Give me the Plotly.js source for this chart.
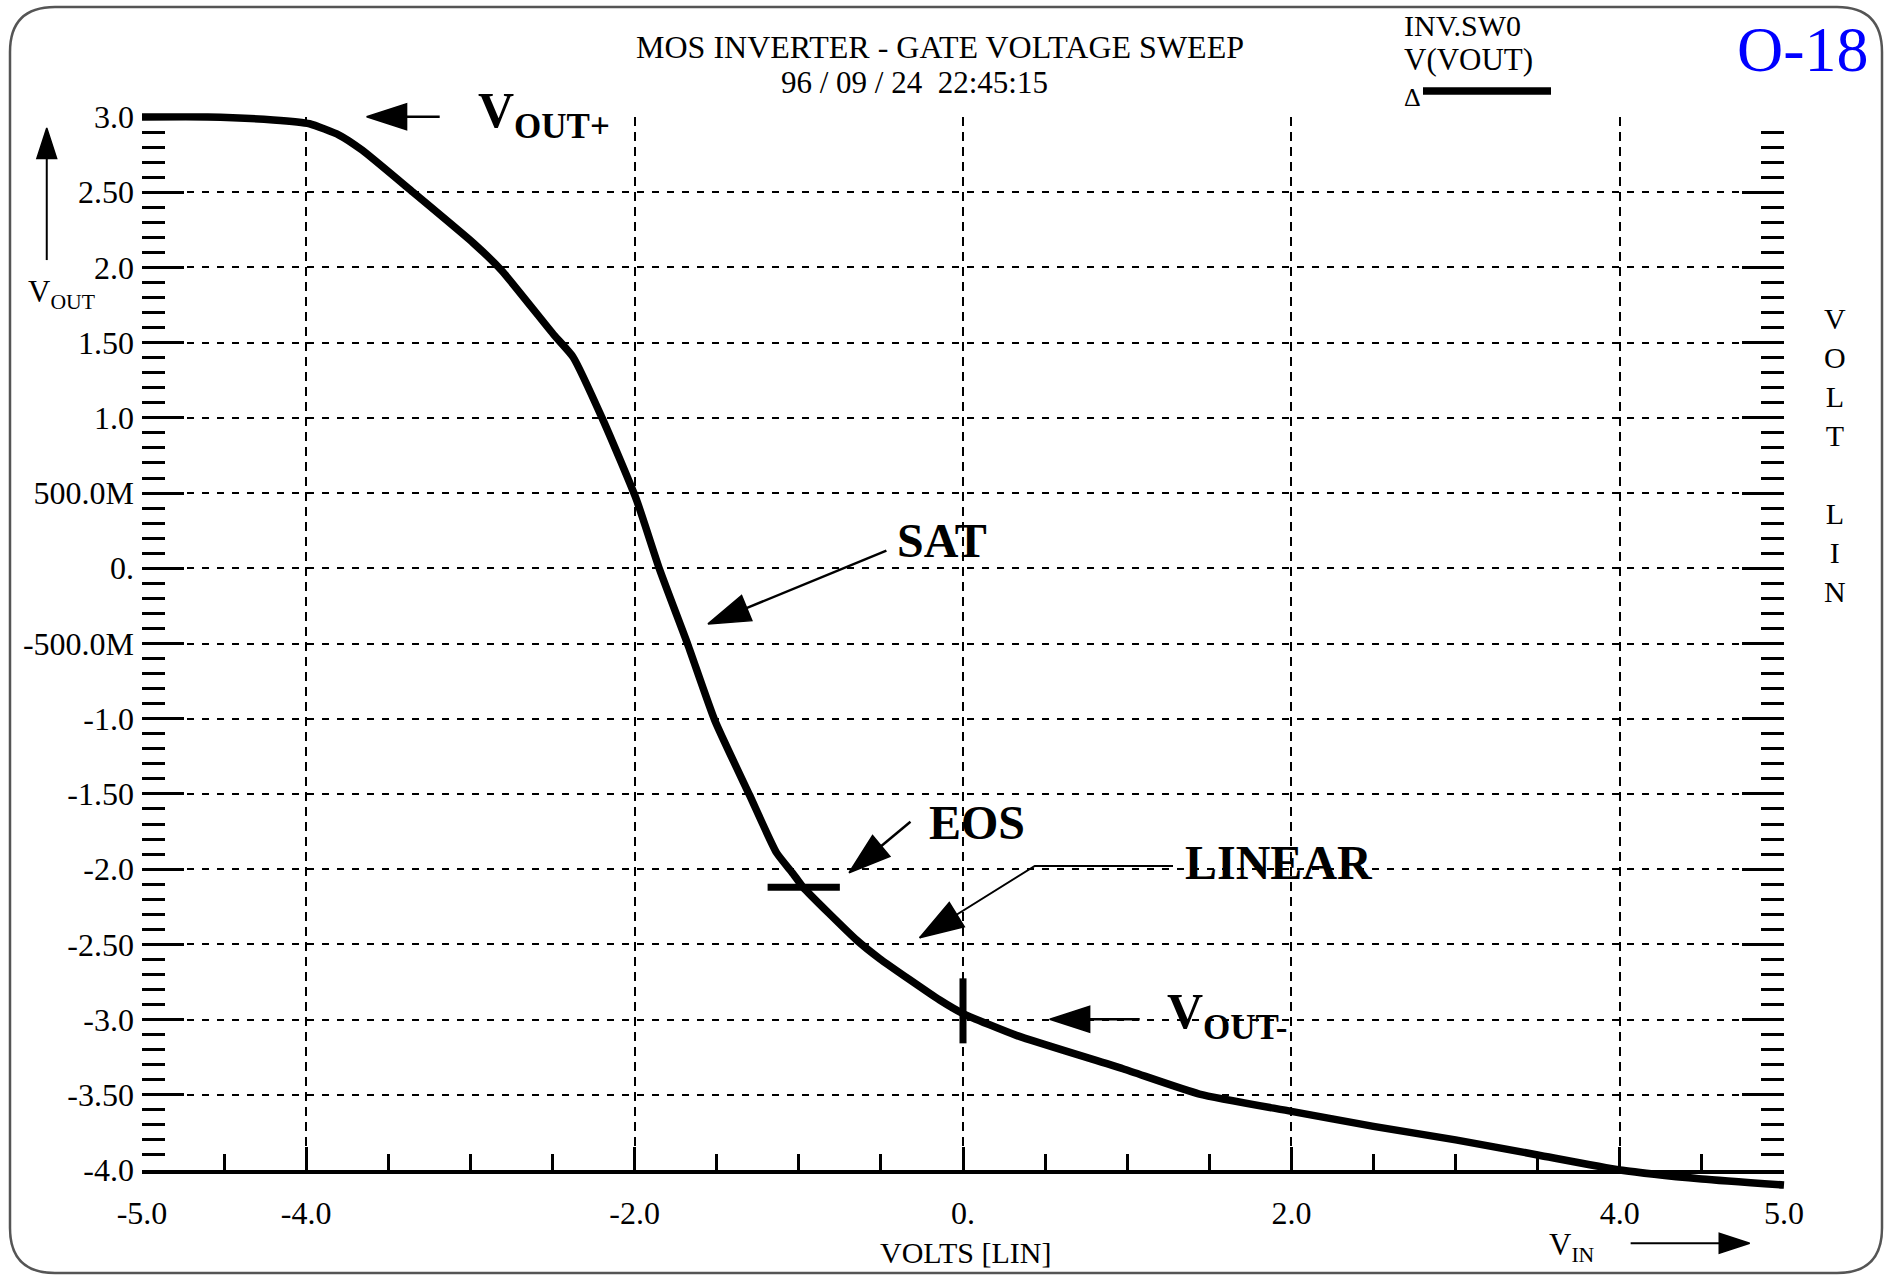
<!DOCTYPE html>
<html>
<head>
<meta charset="utf-8">
<script src="https://cdn.plot.ly/plotly-3.0.1.min.js"></script>
<style>html,body{margin:0;padding:0;background:#fff;}#chart{width:1893px;height:1276px;}</style>
</head>
<body>
<div id="chart"></div>
<script>
// ---------------- data ----------------
const vin  = [-5.0, -4.6, -4.2, -3.98, -3.8, -3.66, -3.35, -2.98, -2.81, -2.49, -2.375, -2.19, -1.99, -1.847, -1.675, -1.512, -1.299, -1.136, -1.035, -0.974, -0.649, -0.507, -0.142, 0.0, 0.325, 0.974, 1.44, 2.0, 2.5, 3.0, 3.5, 4.0, 4.5, 5.0];
const vout = [3.00, 3.00, 2.98, 2.955, 2.88, 2.78, 2.50, 2.16, 1.98, 1.55, 1.405, 0.98, 0.46, -0.01, -0.51, -1.01, -1.51, -1.89, -2.03, -2.12, -2.47, -2.595, -2.87, -2.96, -3.105, -3.327, -3.495, -3.61, -3.71, -3.80, -3.90, -4.00, -4.06, -4.10];

const eosX = [-1.19, -0.75];
const eosY = [-2.12, -2.12];
const voutMinusMarkX = [0.0, 0.0];
const voutMinusMarkY = [-2.726, -3.158];

const yTickVals = [3.0, 2.5, 2.0, 1.5, 1.0, 0.5, 0.0, -0.5, -1.0, -1.5, -2.0, -2.5, -3.0, -3.5, -4.0];
const yTickText = ['3.0', '2.50', '2.0', '1.50', '1.0', '500.0M', '0.', '-500.0M', '-1.0', '-1.50', '-2.0', '-2.50', '-3.0', '-3.50', '-4.0'];
const xTickVals = [-4, -2, 0, 2, 4];
const xTickText = ['-4.0', '-2.0', '0.', '2.0', '4.0'];
const xEdgeVals = [-5, 5];
const xEdgeText = ['-5.0', '5.0'];

// annotation arrows (tail ... tip), in chart units
const arrowVoutPlusX = [-3.187, -3.632];
const arrowVoutPlusY = [3.002, 3.002];
const arrowSatX = [-0.4665, -1.553];
const arrowSatY = [0.117, -0.370];
const arrowEosX = [-0.320, -0.694];
const arrowEosY = [-1.685, -2.024];
const arrowLinearX = [1.279, 0.437, -0.264];
const arrowLinearY = [-1.979, -1.979, -2.456];
const arrowVoutMinusX = [1.076, 0.528];
const arrowVoutMinusY = [-2.998, -2.998];
const arrowVoutAxisX = [-5.58, -5.58];
const arrowVoutAxisY = [2.049, 2.927];
const arrowVinX = [4.066, 4.791];
const arrowVinY = [-4.487, -4.487];

// ---------------- geometry ----------------
const W = 1893, H = 1276;
const PX0 = 142, PX1 = 1784, PY0 = 117, PY1 = 1170;   // pixel box of the -5..5 x 3..-4 frame
const PAD = 20;
const pw = W - 2 * PAD, ph = H - 2 * PAD;
const sx = (PX1 - PX0) / 10, sy = (PY1 - PY0) / 7;
const paperX = px => (px - PAD) / pw;
const paperY = py => (H - PAD - py) / ph;
const dataX = px => -5 + (px - PX0) / sx;
const dataY = py => 3 - (py - PY0) / sy;

const FONT = 'Liberation Serif, Times New Roman, serif';

function arrowTrace(xs, ys, head, lw) {
  const sizes = xs.map((_, i) => i === xs.length - 1 ? head : 0);
  return {
    x: xs, y: ys, xaxis: 'x2', yaxis: 'y2', type: 'scatter', mode: 'lines+markers',
    line: {color: '#000', width: lw},
    marker: {symbol: 'arrow', size: sizes, angleref: 'previous', color: '#000', opacity: 1, line: {width: 1.5, color: '#000'}},
    hoverinfo: 'skip', showlegend: false
  };
}

const traces = [
  {x: [], y: [], xaxis: 'x', yaxis: 'y', type: 'scatter', mode: 'lines', hoverinfo: 'skip', showlegend: false},
  {x: [-5, 5], y: [null, null], xaxis: 'x3', yaxis: 'y', type: 'scatter', mode: 'lines', hoverinfo: 'skip', showlegend: false},
  {x: vin, y: vout, xaxis: 'x2', yaxis: 'y2', type: 'scatter', mode: 'lines', name: 'V(VOUT)',
   line: {color: '#000', width: 7.5, shape: 'spline', smoothing: 0.5}, hoverinfo: 'x+y', showlegend: false},
  {x: eosX, y: eosY, xaxis: 'x2', yaxis: 'y2', type: 'scatter', mode: 'lines', line: {color: '#000', width: 7}, hoverinfo: 'skip', showlegend: false},
  {x: voutMinusMarkX, y: voutMinusMarkY, xaxis: 'x2', yaxis: 'y2', type: 'scatter', mode: 'lines', line: {color: '#000', width: 7}, hoverinfo: 'skip', showlegend: false},
  arrowTrace(arrowVoutPlusX, arrowVoutPlusY, 42, 2.5),
  arrowTrace(arrowSatX, arrowSatY, 44, 2.5),
  arrowTrace(arrowEosX, arrowEosY, 44, 2.5),
  arrowTrace(arrowLinearX, arrowLinearY, 46, 2),
  arrowTrace(arrowVoutMinusX, arrowVoutMinusY, 42, 2.5),
  arrowTrace(arrowVoutAxisX, arrowVoutAxisY, 32, 2),
  arrowTrace(arrowVinX, arrowVinY, 32, 2)
];

const domX = [paperX(PX0), paperX(PX1)];
const domY = [paperY(PY1), paperY(PY0)];

function rounded(x1, y1, x2, y2, r) {
  const X = paperX, Y = paperY;
  return `M${X(x1 + r)},${Y(y1)} L${X(x2 - r)},${Y(y1)} Q${X(x2)},${Y(y1)} ${X(x2)},${Y(y1 + r)} ` +
         `L${X(x2)},${Y(y2 - r)} Q${X(x2)},${Y(y2)} ${X(x2 - r)},${Y(y2)} L${X(x1 + r)},${Y(y2)} ` +
         `Q${X(x1)},${Y(y2)} ${X(x1)},${Y(y2 - r)} L${X(x1)},${Y(y1 + r)} Q${X(x1)},${Y(y1)} ${X(x1 + r)},${Y(y1)} Z`;
}

function pAnn(text, px, py, size, opts) {
  return Object.assign({text: text, xref: 'paper', yref: 'paper', x: paperX(px), y: paperY(py),
    showarrow: false, xanchor: 'center', yanchor: 'middle', font: {family: FONT, size: size, color: '#000'}}, opts || {});
}
function dAnn(text, px, py, size, opts) {
  return Object.assign({text: text, xref: 'x2', yref: 'y2', x: dataX(px), y: dataY(py),
    showarrow: false, xanchor: 'center', yanchor: 'middle', font: {family: FONT, size: size, color: '#000', weight: 'bold'}}, opts || {});
}

const TICKFONT = {family: FONT, size: 32, color: '#000'};

const layout = {
  width: W, height: H,
  margin: {l: PAD, r: PAD, t: PAD, b: PAD, pad: 0},
  paper_bgcolor: '#ffffff', plot_bgcolor: 'rgba(0,0,0,0)',
  showlegend: false,
  font: {family: FONT, size: 30, color: '#000'},
  title: {text: 'MOS INVERTER - GATE VOLTAGE SWEEP', xref: 'container', yref: 'container',
          x: 940 / W, y: 1 - 47 / H, xanchor: 'center', yanchor: 'middle', font: {family: FONT, size: 32, color: '#000'}},
  xaxis: {domain: domX, range: [-5, 5], anchor: 'y', tickmode: 'array', tickvals: xTickVals, ticktext: xTickText,
          ticks: 'inside', ticklen: 23, tickwidth: 3, tickcolor: '#000',
          showline: true, linewidth: 3.5, linecolor: '#000', zeroline: false,
          showgrid: true, gridcolor: '#000', gridwidth: 2, griddash: '9px,6px',
          minor: {tickmode: 'linear', tick0: 0, dtick: 0.5, ticks: 'inside', ticklen: 16, tickwidth: 3, tickcolor: '#000', showgrid: false},
          tickfont: TICKFONT, ticklabelstandoff: 12, fixedrange: true},
  xaxis3: {overlaying: 'x', anchor: 'y', side: 'bottom', range: [-5, 5], tickmode: 'array', tickvals: xEdgeVals, ticktext: xEdgeText,
           ticks: '', showgrid: false, zeroline: false, showline: false, showticklabels: true,
           tickfont: TICKFONT, ticklabelstandoff: 21, fixedrange: true},
  yaxis: {domain: domY, range: [-4, 3], anchor: 'x', tickmode: 'array', tickvals: yTickVals, ticktext: yTickText,
          ticks: 'inside', ticklen: 42, tickwidth: 3, tickcolor: '#000', mirror: 'ticks',
          showline: false, zeroline: false,
          showgrid: true, gridcolor: '#000', gridwidth: 2, griddash: '7px,8px',
          minor: {tickmode: 'linear', tick0: 0, dtick: 0.1, ticks: 'inside', ticklen: 23, tickwidth: 3, tickcolor: '#000', showgrid: false},
          tickfont: TICKFONT, ticklabelstandoff: 7, fixedrange: true},
  xaxis2: {domain: [0, 1], range: [dataX(PAD), dataX(W - PAD)], anchor: 'y2', visible: false, fixedrange: true},
  yaxis2: {domain: [0, 1], range: [dataY(H - PAD), dataY(PAD)], anchor: 'x2', visible: false, fixedrange: true},
  shapes: [
    {type: 'path', xref: 'paper', yref: 'paper', path: rounded(10, 7, 1882, 1273, 45), line: {color: '#555', width: 2.5}},
    {type: 'line', xref: 'paper', yref: 'paper', x0: paperX(1423), x1: paperX(1551), y0: paperY(91), y1: paperY(91), line: {color: '#000', width: 7.5}}
  ],
  annotations: [
    pAnn('96 / 09 / 24&nbsp; 22:45:15', 914.5, 83, 31),
    pAnn('INV.SW0', 1402, 25, 30, {xanchor: 'left'}),
    pAnn('V(VOUT)', 1402, 60, 31, {xanchor: 'left'}),
    pAnn('Δ', 1402, 97, 26, {xanchor: 'left'}),
    pAnn('O-18', 1803, 50, 64, {font: {family: FONT, size: 64, color: '#0000ff'}}),
    pAnn('V<br>O<br>L<br>T<br> <br>L<br>I<br>N', 1835, 455, 30),
    pAnn('V<sub>OUT</sub>', 61, 294, 31),
    pAnn('V<sub>IN</sub>', 1572, 1247, 31),
    pAnn('VOLTS [LIN]', 966, 1252, 30),
    dAnn('V<sub>OUT+</sub>', 476, 114, 50, {xanchor: 'left'}),
    dAnn('SAT', 941.5, 540, 48),
    dAnn('EOS', 976.7, 822.5, 48),
    dAnn('LINEAR', 1279, 862, 48),
    dAnn('V<sub>OUT-</sub>', 1165, 1015, 50, {xanchor: 'left'})
  ]
};

Plotly.newPlot('chart', traces, layout, {displayModeBar: false, staticPlot: true});
</script>
</body>
</html>
